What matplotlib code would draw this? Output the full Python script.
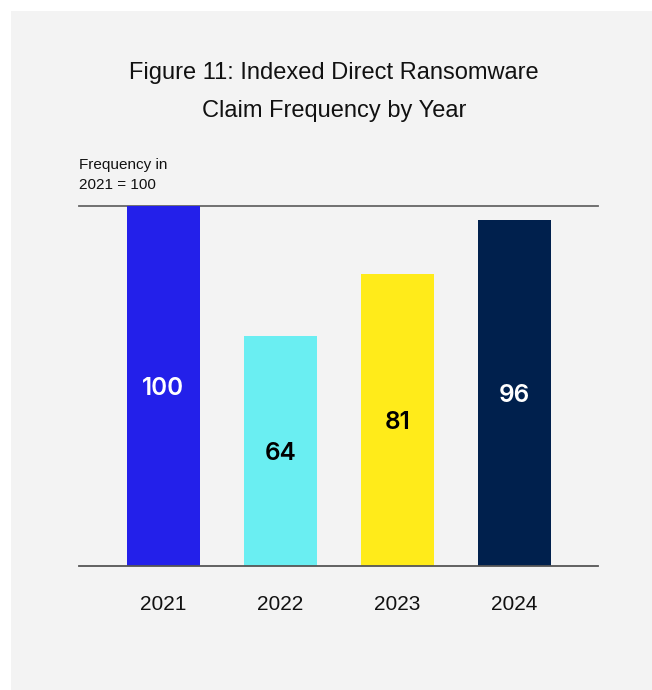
import matplotlib.pyplot as plt
from matplotlib.patches import Rectangle

plt.rcParams['font.family'] = ['Liberation Sans', 'DejaVu Sans']

# data
years = ['2021', '2022', '2023', '2024']
frequency = [100, 64, 81, 96]
colors = ['#2320ea', '#6aeef2', '#ffeb1a', '#00204d']
label_colors = ['white', 'black', 'black', 'white']

fig = plt.figure(figsize=(6.52, 6.9), dpi=100, facecolor='white')

# light grey card behind everything
fig.patches.append(Rectangle((11 / 652, 0), 1, 679 / 690, transform=fig.transFigure,
                             facecolor='#f3f3f3', edgecolor='none', zorder=-10))

ax = fig.add_axes([79 / 652, 124 / 690, 519 / 652, 360 / 690])
ax.set_facecolor('none')

x = range(len(years))
ax.bar(x, frequency, width=0.624, color=colors, zorder=2)

for i, v in enumerate(frequency):
    ax.text(i, v / 2, str(v), ha='center', va='center_baseline', fontsize=17.5,
            family=['Inter', 'DejaVu Sans'], fontweight='semibold',
            color=label_colors[i], zorder=3)

ax.set_xlim(-0.722, 3.714)
ax.set_ylim(0, 100)

# only the baseline and the 100 line
for s in ['left', 'right', 'top']:
    ax.spines[s].set_visible(False)
ax.spines['bottom'].set_color('#555555')
ax.spines['bottom'].set_linewidth(1.3)
ax.axhline(100, color='#666666', linewidth=1.3, zorder=1, clip_on=False)

ax.set_yticks([])
ax.set_xticks(list(x))
ax.set_xticklabels(years, fontsize=15)
ax.tick_params(axis='x', length=0, pad=21, colors='#111111')

fig.text(79 / 652, 1 - 158 / 690, 'Frequency in\n2021 = 100', ha='left', va='top',
         fontsize=11, color='#111111', linespacing=1.55)

fig.text(334 / 652, 1 - 92 / 690, 'Figure 11: Indexed Direct Ransomware\nClaim Frequency by Year',
         ha='center', va='center', fontsize=17, color='#111111', linespacing=1.95)

plt.savefig('out.png', dpi=100, facecolor='white')
